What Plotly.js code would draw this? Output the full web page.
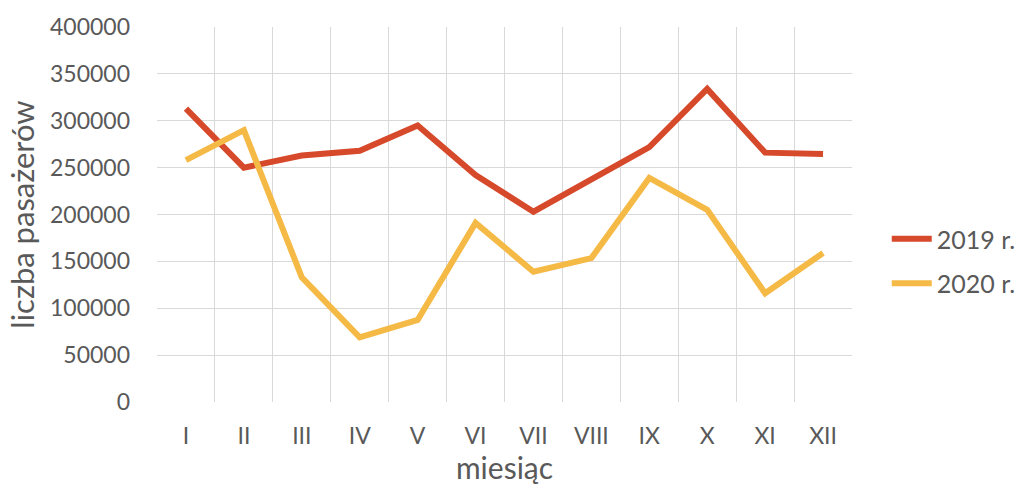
<!DOCTYPE html>
<html>
<head>
<meta charset="utf-8">
<script src="https://cdn.plot.ly/plotly-3.0.1.min.js"></script>
<style>html,body{margin:0;padding:0;background:#fff;}#chart{width:1036px;height:489px;}</style>
</head>
<body>
<div id="chart"></div>
<script>
const months = ["I","II","III","IV","V","VI","VII","VIII","IX","X","XI","XII"];
const values2019 = [313000, 250000, 263000, 268000, 295000, 242000, 203000, 238000, 272000, 334000, 266000, 264500];
const values2020 = [258000, 290000, 133000, 69000, 87500, 191000, 139000, 153500, 239000, 205000, 116000, 159000];
const seriesNames = ["2019 r.", "2020 r."];
const yTicks = [0, 50000, 100000, 150000, 200000, 250000, 300000, 350000, 400000];

const font = "Lato, 'Open Sans', sans-serif";
const traces = [
  {x: months, y: values2019, name: seriesNames[0], legendgroup: "a", type: "scatter", mode: "lines",
   line: {color: "#D6492A", width: 6}},
  {x: months, y: values2020, name: seriesNames[1], legendgroup: "b", type: "scatter", mode: "lines",
   line: {color: "#F5B946", width: 6}}
];
const layout = {
  width: 1036, height: 489,
  margin: {l: 157, r: 184, t: 27, b: 87},
  paper_bgcolor: "#fff", plot_bgcolor: "#fff",
  font: {family: font, color: "#595959", size: 23},
  showlegend: true,
  legend: {x: 1.05, y: 0.376, xanchor: "left", yanchor: "middle", font: {size: 25, color: "#595959"},
           traceorder: "grouped", tracegroupgap: 9, itemwidth: 40},
  xaxis: {
    type: "category", range: [-0.5, 11.5], tickson: "boundaries",
    showgrid: true, gridcolor: "#d9d9d9", gridwidth: 1,
    showline: false, zeroline: false, ticks: "",
    ticklabelstandoff: 18,
    tickfont: {size: 23, color: "#595959"},
    title: {text: "miesiąc", font: {size: 30, color: "#595959"}, standoff: 6}
  },
  yaxis: {
    range: [0, 400000], tickvals: yTicks, ticktext: yTicks.map(String),
    showgrid: true, gridcolor: "#d9d9d9", gridwidth: 1,
    zeroline: false, showline: false, ticks: "",
    ticklabelstandoff: 26,
    tickfont: {size: 23, color: "#595959"},
    title: {text: "liczba pasażerów", font: {size: 31, color: "#595959"}, standoff: 6}
  }
};
Plotly.newPlot("chart", traces, layout, {displayModeBar: false, staticPlot: true});
</script>
</body>
</html>
